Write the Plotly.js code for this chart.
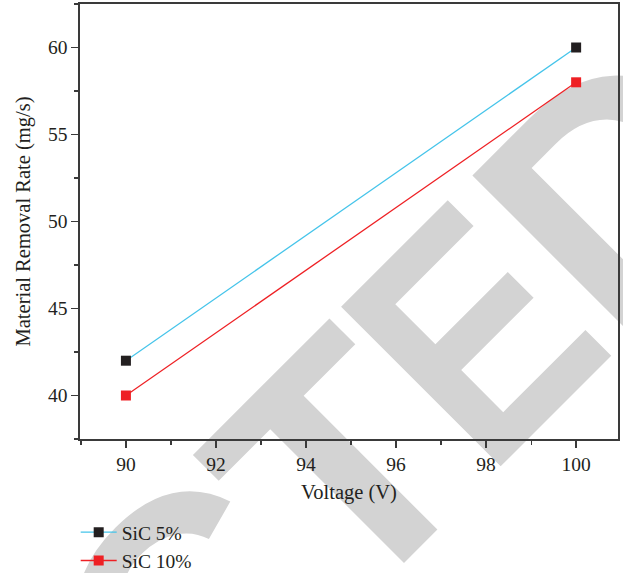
<!DOCTYPE html>
<html>
<head>
<meta charset="utf-8">
<script src="https://cdn.plot.ly/plotly-3.0.1.min.js"></script>
<style>
  html, body { margin: 0; padding: 0; background: #ffffff; }
  #wrap { position: relative; width: 623px; height: 573px; overflow: hidden; }
  #wm { position: absolute; left: 0; top: 0; z-index: 0; }
  #chart { position: absolute; left: 0; top: 0; width: 623px; height: 573px; z-index: 1; }
</style>
</head>
<body>
<div id="wrap">
  <svg id="wm" width="623" height="573" xmlns="http://www.w3.org/2000/svg">
    <g transform="translate(483.5,483.5) rotate(-45)" fill="#d3d3d3"
       font-family="Liberation Sans, Arial, sans-serif" font-weight="bold" font-size="328">
      <text x="-180" text-anchor="end">RETRAC</text>
      <text x="-189">T</text>
      <text transform="translate(26,0) scale(0.85,1)" x="-24">E</text>
      <text x="188">D</text>
    </g>
  </svg>
  <div id="chart"></div>
</div>
<script>
// ---- data ----
const voltage = [90, 100];
const sic5 = [42, 60];
const sic10 = [40, 58];
const seriesNames = ['SiC 5%', 'SiC 10%'];
const xTickVals = [90, 92, 94, 96, 98, 100];
const yTickVals = [40, 45, 50, 55, 60];

const serif = 'Liberation Serif, Times New Roman, serif';
const textColor = '#231f20';
const axisColor = '#3a3a3a';

const traces = [
  {
    x: voltage, y: sic5, name: seriesNames[0], type: 'scatter', mode: 'lines+markers',
    line: { color: '#45c4ea', width: 1.3 },
    marker: { symbol: 'square', size: 10, color: '#231f20' }
  },
  {
    x: voltage, y: sic10, name: seriesNames[1], type: 'scatter', mode: 'lines+markers',
    line: { color: '#ee2024', width: 1.3 },
    marker: { symbol: 'square', size: 10, color: '#ee2024' }
  }
];

const axisCommon = {
  showline: true, linecolor: axisColor, linewidth: 1.6, mirror: true,
  showgrid: false, zeroline: false,
  ticks: 'outside', ticklen: 7, tickwidth: 1.3, tickcolor: axisColor,
  tickfont: { family: serif, size: 19.5, color: textColor },
  automargin: false
};

const layout = {
  width: 623, height: 573,
  margin: { l: 80, r: 5, t: 4, b: 134, pad: 0, autoexpand: false },
  paper_bgcolor: 'rgba(0,0,0,0)',
  plot_bgcolor: 'rgba(0,0,0,0)',
  font: { family: serif, color: textColor },
  showlegend: true,
  legend: {
    x: -0.008, xanchor: 'left', y: -0.170, yanchor: 'top',
    bgcolor: 'rgba(0,0,0,0)', borderwidth: 0,
    font: { family: serif, size: 19.5, color: textColor },
    itemwidth: 36, tracegroupgap: 0
  },
  xaxis: Object.assign({}, axisCommon, {
    range: [88.98, 100.93],
    tickmode: 'array', tickvals: xTickVals, ticktext: xTickVals.map(String),
    minor: { ticks: 'outside', ticklen: 4, tickwidth: 1.2, tickcolor: axisColor, dtick: 1, tick0: 89, showgrid: false },
    title: { text: 'Voltage (V)', font: { family: serif, size: 20.5, color: textColor }, standoff: 10 }
  }),
  yaxis: Object.assign({}, axisCommon, {
    range: [37.5, 62.5],
    tickmode: 'array', tickvals: yTickVals, ticktext: yTickVals.map(String),
    minor: { ticks: 'outside', ticklen: 4, tickwidth: 1.2, tickcolor: axisColor, dtick: 2.5, tick0: 37.5, showgrid: false },
    title: { text: 'Material Removal Rate (mg/s)', font: { family: serif, size: 20.5, color: textColor }, standoff: 12 }
  })
};

Plotly.newPlot('chart', traces, layout, { displayModeBar: false, staticPlot: true });
</script>
</body>
</html>
